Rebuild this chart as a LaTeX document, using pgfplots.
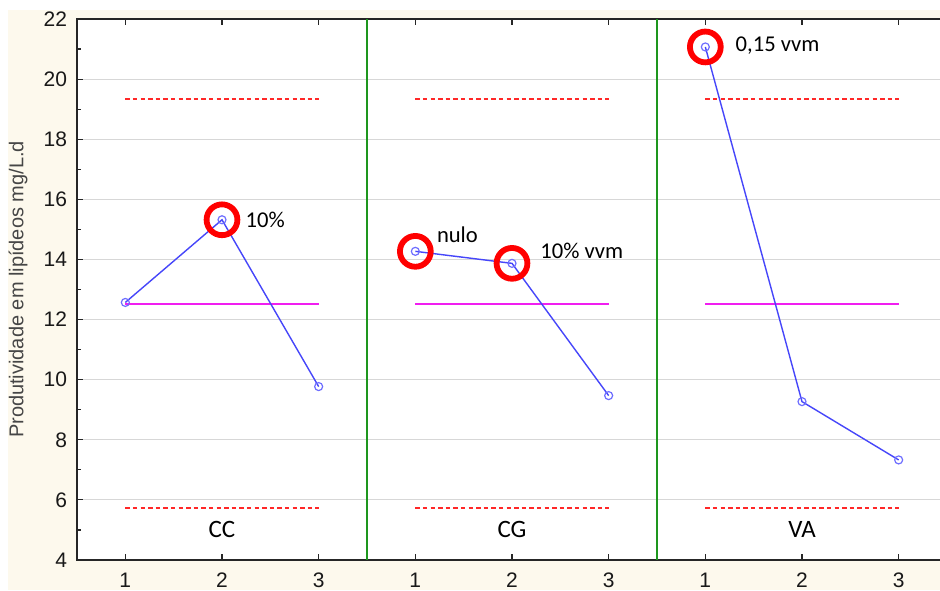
\documentclass[border=0pt]{standalone}
\usepackage{fontspec}
\setmainfont{Liberation Sans}
\newfontfamily\calib{Carlito}
\usepackage{pgfplots}
\pgfplotsset{compat=1.18}
\definecolor{cream}{RGB}{253,249,237}
\definecolor{lineblue}{RGB}{70,70,250}
\definecolor{markblue}{RGB}{110,110,255}
\definecolor{meanmag}{RGB}{240,30,240}
\definecolor{limred}{RGB}{255,40,40}
\definecolor{sepgreen}{RGB}{30,150,30}
\definecolor{gridgray}{RGB}{215,215,215}
\definecolor{ticktext}{RGB}{25,25,25}
\definecolor{labtext}{RGB}{70,70,70}
\begin{document}
\begin{tikzpicture}
\path[use as bounding box] (-38.5pt,-15pt) rectangle (431.5pt,280pt);
\fill[white] (-38.5pt,-15pt) rectangle (431.5pt,280pt);
\fill[cream] (-34.5pt,-15pt) rectangle (431.5pt,275pt);
\begin{axis}[
  at={(0,0)}, anchor=south west,
  scale only axis, width=435pt, height=270.5pt,
  xmin=0.5, xmax=9.5, ymin=4, ymax=22,
  axis background/.style={fill=white},
  axis line style={line width=0.8pt, black!85},
  xtick={1,...,9}, xticklabels={1,2,3,1,2,3,1,2,3},
  ytick={4,6,...,22}, minor y tick num=1,
  xtick pos=both, ytick pos=left,
  tick align=inside,
  major tick length=3pt, minor tick length=1.8pt,
  tick style={line width=0.6pt, black!85},
  ymajorgrids, grid style={gridgray, line width=0.6pt},
  /pgf/number format/assume math mode=true,
  tick label style={font=\fontsize{10.5}{12}\selectfont, text=ticktext},
  xticklabel style={yshift=-3pt},
  yticklabel style={xshift=-1.5pt},
  ylabel={Produtividade em lipídeos mg/L.d},
  every axis y label/.style={at={(axis description cs:-0.0678,0.5)}, rotate=90, anchor=center, font=\fontsize{10}{12}\selectfont, text=labtext},
  clip=false,
]
% limits
\addplot[limred, line width=0.9pt, dash pattern=on 2.2pt off 1.6pt] coordinates {(1,19.35)(3,19.35)};
\addplot[limred, line width=0.9pt, dash pattern=on 2.2pt off 1.6pt] coordinates {(4,19.35)(6,19.35)};
\addplot[limred, line width=0.9pt, dash pattern=on 2.2pt off 1.6pt] coordinates {(7,19.35)(9,19.35)};
\addplot[limred, line width=0.9pt, dash pattern=on 2.2pt off 1.6pt] coordinates {(1,5.72)(3,5.72)};
\addplot[limred, line width=0.9pt, dash pattern=on 2.2pt off 1.6pt] coordinates {(4,5.72)(6,5.72)};
\addplot[limred, line width=0.9pt, dash pattern=on 2.2pt off 1.6pt] coordinates {(7,5.72)(9,5.72)};
% mean
\addplot[meanmag, line width=0.75pt] coordinates {(1,12.52)(3,12.52)};
\addplot[meanmag, line width=0.75pt] coordinates {(4,12.52)(6,12.52)};
\addplot[meanmag, line width=0.75pt] coordinates {(7,12.52)(9,12.52)};
% separators
\addplot[sepgreen, line width=0.75pt] coordinates {(3.5,4)(3.5,22)};
\addplot[sepgreen, line width=0.75pt] coordinates {(6.5,4)(6.5,22)};
% data
\addplot[lineblue, line width=0.7pt, mark=o, mark size=2pt, mark options={markblue, line width=0.6pt}] coordinates {(1,12.57)(2,15.32)(3,9.77)};
\addplot[lineblue, line width=0.7pt, mark=o, mark size=2pt, mark options={markblue, line width=0.6pt}] coordinates {(4,14.27)(5,13.87)(6,9.47)};
\addplot[lineblue, line width=0.7pt, mark=o, mark size=2pt, mark options={markblue, line width=0.6pt}] coordinates {(7,21.07)(8,9.27)(9,7.33)};
% highlight circles
\addplot[only marks, mark=o, mark size=7.7pt, mark options={red, line width=2.9pt}] coordinates {(2,15.32)(4,14.27)(5,13.87)(7,21.07)};
% texts
\node[anchor=west, inner sep=0pt, font=\calib\fontsize{11.3}{13}\selectfont] at (axis cs:2.24,15.32) {10\%};
\node[anchor=west, inner sep=0pt, font=\calib\fontsize{11.3}{13}\selectfont] at (axis cs:4.22,14.82) {nulo};
\node[anchor=west, inner sep=0pt, font=\calib\fontsize{11.3}{13}\selectfont] at (axis cs:5.29,14.3) {10\% vvm};
\node[anchor=west, inner sep=0pt, font=\calib\fontsize{11.3}{13}\selectfont] at (axis cs:7.31,21.1) {0,15 vvm};
\node[anchor=center, inner sep=0pt, font=\calib\fontsize{12.5}{14}\selectfont] at (axis cs:2,5.0) {CC};
\node[anchor=center, inner sep=0pt, font=\calib\fontsize{12.5}{14}\selectfont] at (axis cs:5,5.0) {CG};
\node[anchor=center, inner sep=0pt, font=\calib\fontsize{12.5}{14}\selectfont] at (axis cs:8,5.0) {VA};
\end{axis}
\end{tikzpicture}
\end{document}
